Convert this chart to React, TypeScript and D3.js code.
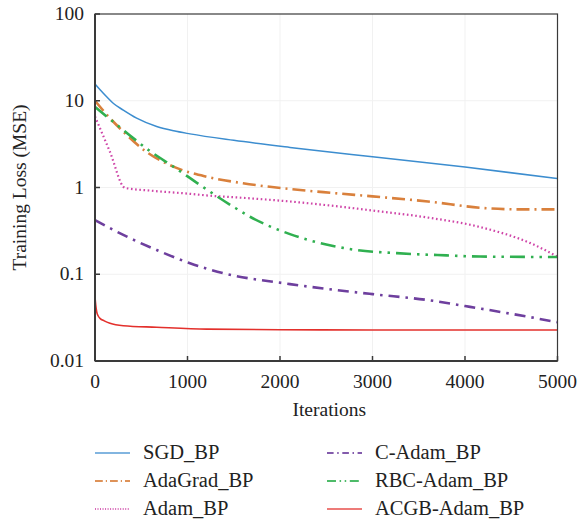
import React from "react";
import * as d3 from "d3";

const xTicks = [0, 1000, 2000, 3000, 4000, 5000];
const yTicks = [0.01, 0.1, 1, 10, 100];
const yTickLabels = ["0.01", "0.1", "1", "10", "100"];

const sgdIter = [0, 60, 126, 200, 306, 450, 667, 850, 1027, 1500, 2108, 3000, 4000, 5000];
const sgdLoss = [15.6, 13.2, 11.1, 9.3, 7.8, 6.3, 5.05, 4.5, 4.15, 3.5, 2.9, 2.26, 1.72, 1.27];

const adagradIter = [0, 150, 306, 550, 847, 1207, 1600, 2108, 2600, 3000, 3600, 4200, 4600, 5000];
const adagradLoss = [10, 6.5, 4.4, 2.6, 1.74, 1.33, 1.12, 0.96, 0.86, 0.79, 0.69, 0.58, 0.56, 0.56];

const adamIter = [0, 160, 324, 600, 1000, 1207, 1600, 2108, 2600, 3081, 3600, 4162, 4700, 5000];
const adamLoss = [6.6, 2.6, 0.99, 0.92, 0.85, 0.81, 0.76, 0.69, 0.61, 0.53, 0.45, 0.35, 0.23, 0.16];

const cAdamIter = [0, 306, 667, 1027, 1387, 2108, 2600, 3000, 3622, 4000, 4500, 5000];
const cAdamLoss = [0.42, 0.284, 0.19, 0.134, 0.103, 0.077, 0.066, 0.059, 0.05, 0.043, 0.035, 0.028];

const rbcIter = [0, 306, 600, 847, 1135, 1495, 1676, 2108, 2500, 2829, 3261, 3800, 4162, 5000];
const rbcLoss = [8.5, 4.6, 2.6, 1.74, 1.07, 0.6, 0.46, 0.29, 0.22, 0.19, 0.175, 0.165, 0.16, 0.158];

const acgbIter = [0, 8, 18, 35, 54, 100, 162, 306, 667, 1207, 2000, 3000, 4000, 5000];
const acgbLoss = [0.055, 0.044, 0.037, 0.033, 0.031, 0.029, 0.0272, 0.0255, 0.0245, 0.0233, 0.0229, 0.0228, 0.0228, 0.0228];

const seriesNames = ["SGD_BP", "AdaGrad_BP", "Adam_BP", "C-Adam_BP", "RBC-Adam_BP", "ACGB-Adam_BP"];

const styles = [
  { color: "#3c8dcf", width: 1.5, dash: "" },
  { color: "#d9803c", width: 2.6, dash: "13,5,2,5" },
  { color: "#cf45a8", width: 2.2, dash: "1.6,2.6" },
  { color: "#6e3f9e", width: 2.6, dash: "11,6,2.5,6" },
  { color: "#30b050", width: 2.6, dash: "15,6,2.5,6,2.5,6" },
  { color: "#e3302c", width: 1.6, dash: "" },
];

export default function App() {
  const W = 578, H = 525;
  const left = 95, right = 557.5, top = 14, bottom = 361;
  const x = d3.scaleLinear().domain([0, 5000]).range([left, right]);
  const y = d3.scaleLog().domain([0.01, 100]).range([bottom, top]);
  const line = d3
    .line<[number, number]>()
    .x((d) => x(d[0]))
    .y((d) => y(d[1]))
    .curve(d3.curveMonotoneX);

  const data: [number[], number[]][] = [
    [sgdIter, sgdLoss],
    [adagradIter, adagradLoss],
    [adamIter, adamLoss],
    [cAdamIter, cAdamLoss],
    [rbcIter, rbcLoss],
    [acgbIter, acgbLoss],
  ];

  const font = "'Liberation Serif', 'DejaVu Serif', serif";
  const axisColor = "#3a3a3a";

  const legendPos = [
    [95, 453], [95, 481], [95, 509],
    [327, 453], [327, 481], [327, 509],
  ];

  return (
    <svg
      width={W}
      height={H}
      style={{ position: "absolute", left: 0, top: 0, background: "#fff" }}
      fontFamily={font}
    >
      <rect x={0} y={0} width={W} height={H} fill="#fff" />
      {xTicks.slice(1, -1).map((t) => (
        <line key={"gx" + t} x1={x(t)} x2={x(t)} y1={top} y2={bottom} stroke="#f1f1f1" strokeWidth={1} />
      ))}
      {yTicks.slice(1, -1).map((t) => (
        <line key={"gy" + t} x1={left} x2={right} y1={y(t)} y2={y(t)} stroke="#f1f1f1" strokeWidth={1} />
      ))}
      {data.map(([xs, ys], i) => {
        const pts = xs.map((v, j) => [v, ys[j]] as [number, number]);
        const s = styles[i];
        return (
          <path
            key={i}
            d={line(pts) || ""}
            fill="none"
            stroke={s.color}
            strokeWidth={s.width}
            strokeDasharray={s.dash || undefined}
          />
        );
      })}
      <rect x={left} y={top} width={right - left} height={bottom - top} fill="none" stroke={axisColor} strokeWidth={1.2} />
      <line x1={left} x2={left} y1={top} y2={bottom} stroke={axisColor} strokeWidth={2} />
      <line x1={left} x2={right} y1={bottom} y2={bottom} stroke={axisColor} strokeWidth={2} />
      {xTicks.map((t) => (
        <g key={"xt" + t}>
          <line x1={x(t)} x2={x(t)} y1={bottom} y2={bottom - 5} stroke={axisColor} strokeWidth={1.5} />
          <text x={x(t)} y={388} textAnchor="middle" fontSize={19.5} fill="#222">
            {t}
          </text>
        </g>
      ))}
      {yTicks.map((t, i) => (
        <g key={"yt" + t}>
          <line x1={left} x2={left + 5} y1={y(t)} y2={y(t)} stroke={axisColor} strokeWidth={1.5} />
          <text x={84} y={y(t) + 6} textAnchor="end" fontSize={19.5} fill="#222">
            {yTickLabels[i]}
          </text>
        </g>
      ))}
      <text x={(left + right) / 2 + 3} y={416} textAnchor="middle" fontSize={19.5} fill="#222">
        Iterations
      </text>
      <text
        transform={`translate(26, ${(top + bottom) / 2}) rotate(-90)`}
        textAnchor="middle"
        fontSize={19.5}
        fill="#222"
      >
        Training Loss (MSE)
      </text>
      {seriesNames.map((name, i) => {
        const [lx, ly] = legendPos[i];
        const s = styles[i];
        return (
          <g key={"lg" + i}>
            <line
              x1={lx}
              x2={lx + 35}
              y1={ly}
              y2={ly}
              stroke={s.color}
              strokeWidth={Math.min(s.width, 1.8)}
              strokeDasharray={s.dash ? s.dash.split(",").map((v) => +v * 0.6).join(",") : undefined}
              opacity={0.85}
            />
            <text x={lx + 48} y={ly + 6} fontSize={20.5} fill="#222">
              {name}
            </text>
          </g>
        );
      })}
    </svg>
  );
}
